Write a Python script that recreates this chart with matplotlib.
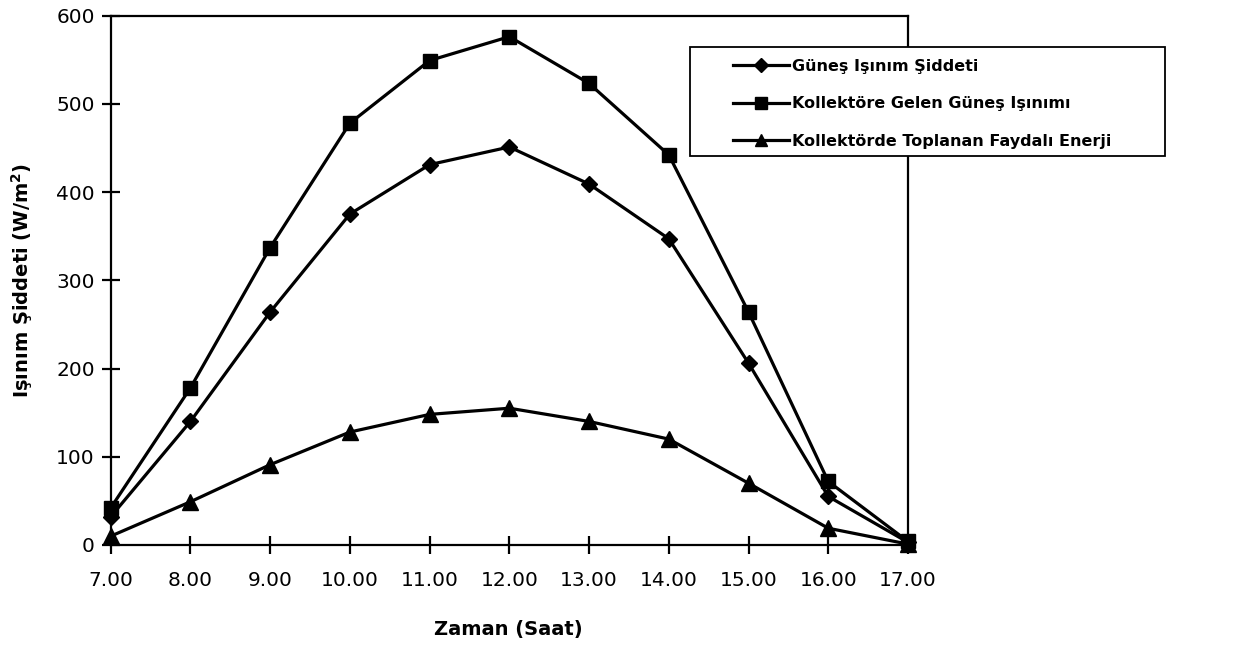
import matplotlib
matplotlib.use("Agg")
import matplotlib.pyplot as plt
from matplotlib.patches import Rectangle

plt.rcParams['font.family'] = ['DejaVu Sans']

hours = [7, 8, 9, 10, 11, 12, 13, 14, 15, 16, 17]
hour_labels = ["7.00", "8.00", "9.00", "10.00", "11.00", "12.00",
               "13.00", "14.00", "15.00", "16.00", "17.00"]

gunes_isinim = [32, 140, 264, 375, 431, 451, 409, 347, 206, 55, 3]
kollektore_gelen = [42, 178, 337, 478, 549, 576, 523, 442, 264, 72, 4]
faydali_enerji = [10, 49, 91, 128, 148, 155, 140, 120, 70, 19, 1]

series_names = ["Güneş Işınım Şiddeti",
                "Kollektöre Gelen Güneş Işınımı",
                "Kollektörde Toplanan Faydalı Enerji"]

W, H = 1236, 652
fig = plt.figure(figsize=(W / 100, H / 100), dpi=100)
ax = fig.add_axes([110.7 / W, 1 - 545 / H, (908 - 110.7) / W, (545 - 15.5) / H])

lw = 2.3
h1, = ax.plot(hours, gunes_isinim, color='black', lw=lw, marker='D', ms=8.5,
              clip_on=False, zorder=3)
h2, = ax.plot(hours, kollektore_gelen, color='black', lw=lw, marker='s', ms=10.5,
              clip_on=False, zorder=3)
h3, = ax.plot(hours, faydali_enerji, color='black', lw=lw, marker='^', ms=11,
              clip_on=False, zorder=3)

ax.set_xlim(7, 17)
ax.set_ylim(0, 600)
ax.set_xticks(hours)
ax.set_xticklabels(hour_labels)
ax.set_yticks(range(0, 601, 100))

for s in ax.spines.values():
    s.set_linewidth(1.6)
    s.set_color('black')

ax.tick_params(axis='both', direction='inout', length=13, width=1.6,
               labelsize=14.5, colors='black')
ax.tick_params(axis='y', pad=5)
ax.tick_params(axis='x', pad=12)

fig.text(508 / W, 1 - 630 / H, "Zaman (Saat)", ha='center', va='center',
         fontsize=14, fontweight='bold')
fig.text(22 / W, 1 - 280 / H, "Işınım Şiddeti (W/m$\\mathbf{^2}$)", ha='center',
         va='center', rotation=90, fontsize=14, fontweight='bold')

# legend frame spanning past the right edge of the plot
ax.add_patch(Rectangle((690 / W, 1 - 156 / H), (1165 - 690) / W, (156 - 47) / H,
                       transform=fig.transFigure, facecolor='white',
                       edgecolor='black', lw=1.3, zorder=5, clip_on=False))
leg = ax.legend([h1, h2, h3], series_names, loc='upper left',
                bbox_to_anchor=(733 / W, 1 - 59 / H), bbox_transform=fig.transFigure,
                frameon=False, borderpad=0, borderaxespad=0, handlelength=3.5,
                handletextpad=0.2, labelspacing=1.4,
                prop={'size': 11.5, 'weight': 'bold'}, markerscale=0.85)
leg.set_zorder(6)

fig.savefig("out.png", dpi=100)
